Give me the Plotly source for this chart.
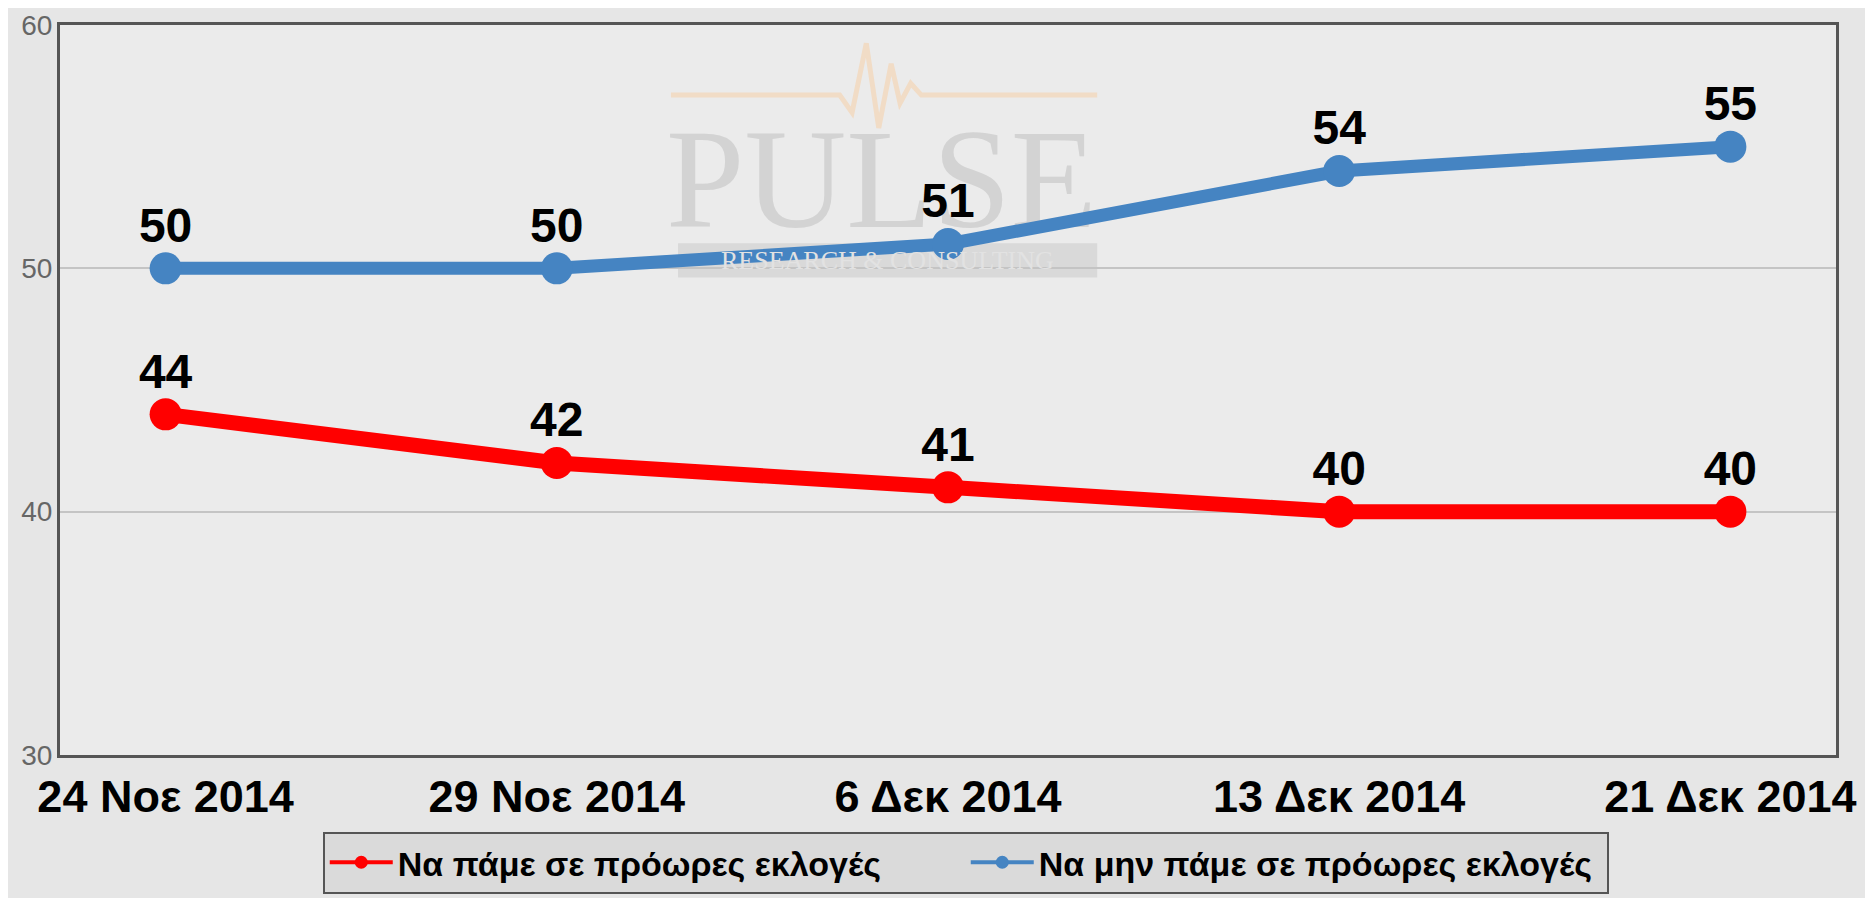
import plotly.graph_objects as go

dates = ["24 Noε 2014", "29 Noε 2014", "6 Δεκ 2014", "13 Δεκ 2014", "21 Δεκ 2014"]
early_yes = [44, 42, 41, 40, 40]
early_no = [50, 50, 51, 54, 55]
name_yes = "Να πάμε σε πρόωρες εκλογές"
name_no = "Να μην πάμε σε πρόωρες εκλογές"
y_ticks = [30, 40, 50, 60]
x_pos = list(range(len(dates)))

FONT = "Liberation Sans, Arial, sans-serif"
RED = "#ff0000"
BLUE = "#4584c2"
LABEL_FONT = dict(family=FONT, size=48, color="#000000", weight="bold")

fig = go.Figure()

# PULSE watermark text (drawn first so it sits beneath the lines)
fig.add_trace(go.Scatter(
    x=[1.83], y=[53.15], mode="text", text=["PULSE"], textposition="middle center",
    textfont=dict(family="Liberation Serif, Times New Roman, serif", size=141, color="#d3d3d3"),
    hoverinfo="skip", showlegend=False,
))

fig.add_trace(go.Scatter(
    x=x_pos, y=early_yes, mode="lines+markers", showlegend=False, name=name_yes,
    line=dict(color=RED, width=15), marker=dict(size=32, color=RED),
))
fig.add_trace(go.Scatter(
    x=x_pos, y=early_no, mode="lines+markers", showlegend=False, name=name_no,
    line=dict(color=BLUE, width=13), marker=dict(size=32, color=BLUE),
))
# value labels (invisible markers set the text offset)
for vals in (early_yes, early_no):
    fig.add_trace(go.Scatter(
        x=x_pos, y=vals, mode="markers+text", showlegend=False, hoverinfo="skip",
        marker=dict(size=22, color="rgba(0,0,0,0)"),
        text=[str(v) for v in vals], textposition="top center",
        textfont=LABEL_FONT, cliponaxis=False,
    ))
# legend entries with small symbols
fig.add_trace(go.Scatter(x=[None], y=[None], mode="lines+markers", name=name_yes,
                         line=dict(color=RED, width=4), marker=dict(size=13, color=RED)))
fig.add_trace(go.Scatter(x=[None], y=[None], mode="lines+markers", name=name_no,
                         line=dict(color=BLUE, width=4), marker=dict(size=13, color=BLUE)))

# watermark decorations (paper coordinates)
shapes = [
    dict(type="rect", xref="paper", yref="paper", x0=0.348, x1=0.584, y0=0.654, y1=0.701,
         fillcolor="#d9d9d9", line=dict(width=0), layer="below"),
    dict(type="path", xref="paper", yref="paper", layer="below",
         path="M 0.344 0.904 L 0.439 0.904 L 0.446 0.88 L 0.454 0.975 L 0.461 0.859 "
              "L 0.468 0.947 L 0.473 0.893 L 0.479 0.92 L 0.485 0.904 L 0.584 0.904",
         line=dict(color="#f1dcc6", width=5)),
]
annotations = [
    dict(text="RESEARCH & CONSULTING", xref="paper", yref="paper", x=0.466, y=0.6775,
         showarrow=False, font=dict(family="Liberation Serif, serif", size=26, color="#e2e2e2"),
         xanchor="center", yanchor="middle"),
]

fig.update_layout(
    width=1865, height=898,
    margin=dict(l=52, r=37, t=17, b=128),
    paper_bgcolor="#e6e6e6", plot_bgcolor="#ebebeb",
    font=dict(family=FONT),
    showlegend=True,
    legend=dict(
        orientation="h", x=0.51, xanchor="center", y=-0.105, yanchor="top",
        bgcolor="#dadada", bordercolor="#555555", borderwidth=2,
        font=dict(family=FONT, size=34, color="#000000", weight="bold"),
        entrywidth=563, itemwidth=63,
    ),
    shapes=shapes, annotations=annotations,
    xaxis=dict(
        range=[-0.27, 4.27], tickvals=x_pos, ticktext=dates, showgrid=False,
        showline=True, linecolor="#555555", linewidth=3, mirror=True, automargin=False,
        ticks="", tickfont=dict(family=FONT, size=45, color="#000000", weight="bold"),
        zeroline=False,
    ),
    yaxis=dict(
        range=[30, 60], tickvals=y_ticks, showgrid=True, gridcolor="#c4c4c4", gridwidth=2,
        showline=True, linecolor="#555555", linewidth=3, mirror=True, automargin=False,
        ticks="", ticklabelstandoff=-1,
        tickfont=dict(family=FONT, size=28, color="#666666"),
        zeroline=False,
    ),
)

fig.write_html("out.html")
